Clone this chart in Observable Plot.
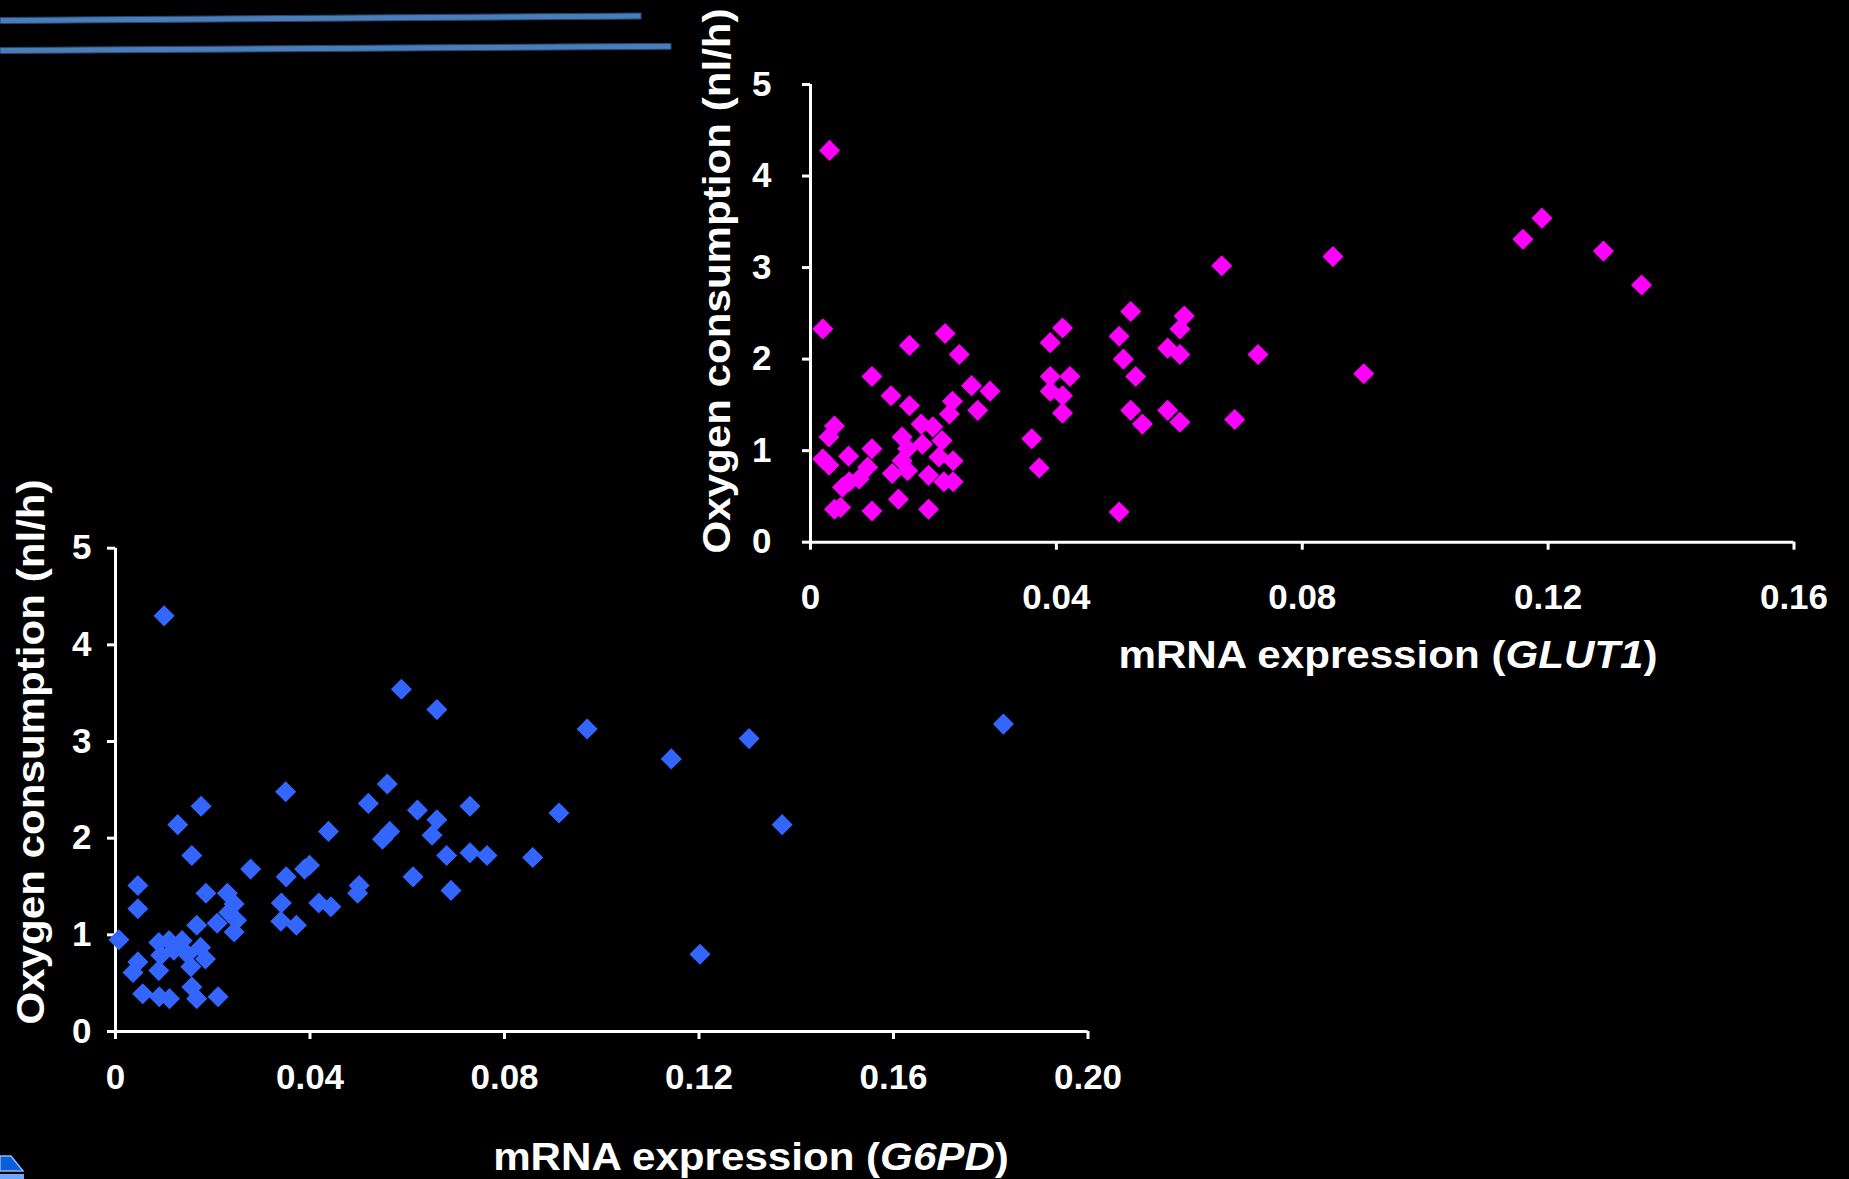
<!DOCTYPE html>
<html><head><meta charset="utf-8">
<script src="https://cdn.jsdelivr.net/npm/d3@7"></script>
<script src="https://cdn.jsdelivr.net/npm/@observablehq/plot@0.6"></script>
<style>
html,body{margin:0;padding:0;background:#000;}
#page{position:relative;width:1849px;height:1179px;overflow:hidden;background:#000;font-family:"Liberation Sans",Arial,sans-serif;color:#fff;}
.chart{position:absolute;}
.lbl{position:absolute;font-weight:bold;font-size:39px;line-height:1;white-space:nowrap;color:#fff;}
</style></head><body><div id="page">
<svg style="position:absolute;left:0;top:0" width="700" height="70">
  <polygon points="0,17.5 641,13 641,19 0,23.5" fill="#4a7ebb" stroke="#27466e" stroke-width="1"/>
  <polygon points="0,47.5 671,43.3 671,49.3 0,53.5" fill="#4a7ebb" stroke="#27466e" stroke-width="1"/>
</svg>
<svg style="position:absolute;left:0;top:1150" width="40" height="29">
  <polygon points="0,6 11,6 23,21 0,21" fill="#0a5fd8" stroke="#8ab8ff" stroke-width="1.5"/>
  <polygon points="0,24 24,24 24,29 0,29" fill="#6fa8ff"/>
</svg>
<div id="chartTop" class="chart" style="left:700px;top:40px"></div>
<div id="chartBottom" class="chart" style="left:0px;top:500px"></div>
<div class="lbl" style="left:716px;top:281px;transform:translate(-50%,-50%) rotate(-90deg) scaleX(1.08)">Oxygen consumption (nl/h)</div>
<div class="lbl" style="left:1388px;top:654px;transform:translate(-50%,-50%) scaleX(1.08)">mRNA expression (<i>GLUT1</i>)</div>
<div class="lbl" style="left:30px;top:752px;transform:translate(-50%,-50%) rotate(-90deg) scaleX(1.08)">Oxygen consumption (nl/h)</div>
<div class="lbl" style="left:751px;top:1156px;transform:translate(-50%,-50%) scaleX(1.08)">mRNA expression (<i>G6PD</i>)</div>
</div>
<script>
// ---- Data ----
const yTicks = [0, 1, 2, 3, 4, 5];
const glut1Ticks = [0, 0.04, 0.08, 0.12, 0.16];
const glut1TickLabels = ["0", "0.04", "0.08", "0.12", "0.16"];
const g6pdTicks = [0, 0.04, 0.08, 0.12, 0.16, 0.20];
const g6pdTickLabels = ["0", "0.04", "0.08", "0.12", "0.16", "0.20"];

const glut1X = [0.0031,0.0020,0.1190,0.1159,0.1290,0.1352,0.0850,0.0669,0.0900,0.0728,
0.0690,0.0521,0.0608,0.0601,0.0502,0.0581,0.0601,0.0509,0.0529,0.0521,
0.0581,0.0540,0.0601,0.0502,0.0410,0.0390,0.0390,0.0422,0.0390,0.0410,
0.0410,0.0360,0.0372,0.0219,0.0161,0.0242,0.0100,0.0262,0.0292,0.0131,
0.0161,0.0231,0.0226,0.0272,0.0039,0.0030,0.0180,0.0199,0.0149,0.0182,
0.0214,0.0158,0.0100,0.0062,0.0020,0.0030,0.0093,0.0209,0.0232,0.0149,
0.0133,0.0158,0.0192,0.0079,0.0063,0.0052,0.0217,0.0232,0.0143,0.0039,
0.0049,0.0100,0.0192];
const glut1Y = [4.28,2.33,3.54,3.31,3.18,2.81,3.12,3.02,1.84,2.05,
1.34,2.52,2.47,2.33,2.25,2.12,2.05,2.00,1.81,1.44,
1.44,1.29,1.31,0.33,2.34,2.18,1.81,1.81,1.65,1.60,
1.41,1.13,0.81,2.28,2.15,2.05,1.81,1.71,1.65,1.60,
1.49,1.54,1.40,1.44,1.27,1.15,1.29,1.26,1.15,1.07,
1.11,1.02,1.02,0.94,0.91,0.84,0.82,0.93,0.89,0.89,
0.75,0.78,0.73,0.69,0.66,0.60,0.66,0.66,0.47,0.36,
0.38,0.34,0.36];

const g6pdX = [0.0100,0.0588,0.0661,0.0350,0.0176,0.0128,0.0559,0.0520,0.0621,0.0661,
0.0729,0.0438,0.0564,0.0549,0.0651,0.0157,0.0681,0.0729,0.0764,0.0858,
0.0278,0.0399,0.0389,0.0351,0.0612,0.0690,0.0046,0.0046,0.0186,0.0230,
0.0501,0.0498,0.0341,0.0418,0.0443,0.0244,0.0233,0.0249,0.0209,0.0167,
0.0244,0.0340,0.0372,0.0007,0.0089,0.0110,0.0137,0.0093,0.0120,0.0148,
0.0175,0.0185,0.0155,0.0046,0.0036,0.0089,0.0157,0.0056,0.0090,0.0111,
0.0167,0.0211,0.0970,0.1143,0.1303,0.0912,0.1371,0.1202,0.1826];
const g6pdY = [4.30,3.54,3.33,2.48,2.33,2.14,2.56,2.36,2.29,2.19,
2.33,2.07,2.07,1.99,2.03,1.82,1.82,1.85,1.82,1.80,
1.68,1.72,1.68,1.60,1.60,1.46,1.51,1.27,1.43,1.43,
1.51,1.43,1.33,1.33,1.29,1.32,1.23,1.15,1.12,1.10,
1.03,1.14,1.10,0.95,0.92,0.94,0.94,0.79,0.84,0.80,
0.87,0.75,0.67,0.72,0.61,0.63,0.46,0.39,0.36,0.34,
0.34,0.36,3.13,2.82,3.03,2.26,2.14,0.80,3.18];

const glut1 = glut1X.map((x, i) => ({x, y: glut1Y[i]}));
const g6pd = g6pdX.map((x, i) => ({x, y: g6pdY[i]}));

const baseStyle = {background: "transparent", color: "#fff", fontFamily: "'Liberation Sans', Arial, sans-serif", fontWeight: "bold", fontSize: "35px", overflow: "visible"};

function makeChart(data, xDomain, xTicks, xLabels, color, opts) {
  return Plot.plot({
    width: opts.width, height: opts.height,
    marginLeft: opts.ml, marginRight: opts.mr, marginTop: opts.mt, marginBottom: opts.mb,
    style: baseStyle,
    x: {domain: xDomain},
    y: {domain: [0, 5]},
    marks: [
      Plot.axisX({ticks: xTicks, tickFormat: (d) => xLabels[xTicks.indexOf(d)] ?? String(d), tickSize: 8, tickPadding: opts.xPad, strokeWidth: 3, fontSize: 35, fontWeight: "bold", label: null}),
      Plot.axisY({ticks: yTicks, tickFormat: (d) => String(d), tickSize: 8, tickPadding: opts.yPad, strokeWidth: 3, fontSize: 35, fontWeight: "bold", label: null}),
      Plot.ruleX([xDomain[0]], {y1: 0, y2: 5, stroke: "#fff", strokeWidth: 3}),
      Plot.ruleY([0], {x1: xDomain[0], x2: xDomain[1], stroke: "#fff", strokeWidth: 3}),
      Plot.dot(data, {x: "x", y: "y", symbol: "diamond2", r: 9.5, fill: color, stroke: "none"})
    ]
  });
}

document.getElementById("chartTop").append(
  makeChart(glut1, [0, 0.16], glut1Ticks, glut1TickLabels, "#ff00ff",
    {width: 1133.5, height: 571.7, ml: 110, mr: 40, mt: 44, mb: 70, xPad: 34, yPad: 31})
);
document.getElementById("chartBottom").append(
  makeChart(g6pd, [0, 0.2], g6pdTicks, g6pdTickLabels, "#3366ff",
    {width: 1108, height: 601, ml: 115, mr: 20.5, mt: 47.7, mb: 70, xPad: 25, yPad: 16})
);
</script>
</body></html>
